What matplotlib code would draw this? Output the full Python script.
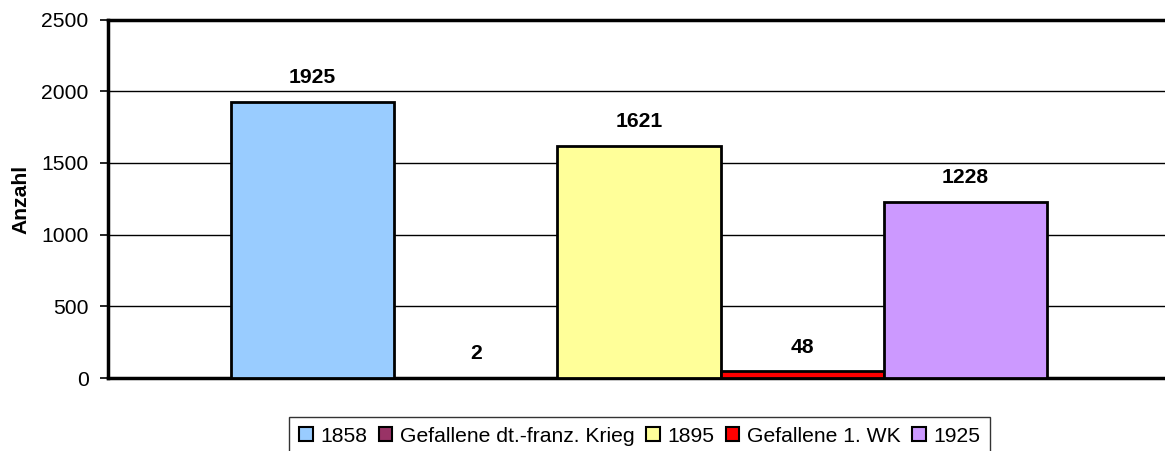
import matplotlib
matplotlib.use("Agg")
import matplotlib.pyplot as plt
from matplotlib.patches import Patch

plt.rcParams['font.family'] = ['Liberation Sans', 'DejaVu Sans']

series = ["1858", "Gefallene dt.-franz. Krieg", "1895", "Gefallene 1. WK", "1925"]
values = [1925, 2, 1621, 48, 1228]
colors = ["#99CCFF", "#993366", "#FFFF99", "#FF0000", "#CC99FF"]
yticks = [0, 500, 1000, 1500, 2000, 2500]
ylabel = "Anzahl"

W, H = 1165, 451
fig = plt.figure(figsize=(W / 100, H / 100), dpi=100)
ax_left, ax_right = 108, 1170
ax_top, ax_bottom = 19.5, 378
ax = fig.add_axes([ax_left / W, (H - ax_bottom) / H, (ax_right - ax_left) / W, (ax_bottom - ax_top) / H])

fs = 15.2
positions = list(range(len(values)))
bars = ax.bar(positions, values, width=1.0, color=colors, edgecolor="black", linewidth=2, zorder=3)
for x, v in zip(positions, values):
    ax.annotate(f"{v}", (x, v), xytext=(0, 10.5), textcoords="offset points",
                ha="center", va="bottom", fontsize=fs, fontweight="bold")

gap = (231 - 108) / 163.2
ax.set_xlim(-0.5 - gap, 4.5 + gap)
ax.set_ylim(0, 2500)
ax.set_yticks(yticks)
ax.set_yticklabels([str(t) for t in yticks], fontsize=fs)
ax.set_xticks([])
ax.yaxis.grid(True, color="black", linewidth=1, zorder=0)
ax.set_axisbelow(True)
ax.tick_params(axis="y", direction="out", length=6, width=1.2, pad=8)
for s in ["left", "bottom", "top"]:
    ax.spines[s].set_linewidth(2.5)
ax.spines["right"].set_visible(False)

fig.text(21 / W, (H - 199) / H, ylabel, rotation=90, ha="center", va="center",
         fontsize=fs, fontweight="bold")

handles = [Patch(facecolor=c, edgecolor="black", linewidth=1.5) for c in colors]
leg = fig.legend(handles, series, loc="upper center", bbox_to_anchor=(639.5 / W, (H - 417) / H),
                 ncol=5, fontsize=fs, frameon=True, fancybox=False, shadow=False,
                 handlelength=0.65, handleheight=0.65, handletextpad=0.35,
                 columnspacing=0.55, borderpad=0.45, borderaxespad=0)
leg.get_frame().set_edgecolor("black")
leg.get_frame().set_linewidth(1)

fig.savefig("out.png", dpi=100)
